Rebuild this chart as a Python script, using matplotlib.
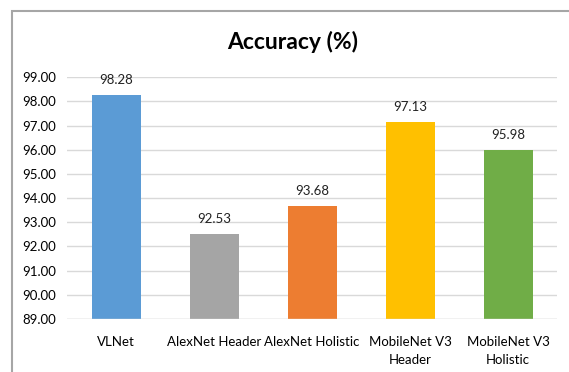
import matplotlib.pyplot as plt
from matplotlib.patches import Rectangle

plt.rcParams['font.family'] = ['Lato', 'DejaVu Sans']

models = ['VLNet', 'AlexNet Header', 'AlexNet Holistic', 'MobileNet V3\nHeader', 'MobileNet V3\nHolistic']
accuracy = [98.28, 92.53, 93.68, 97.13, 95.98]
colors = ['#5B9BD5', '#A5A5A5', '#ED7D31', '#FFC000', '#70AD47']
yticks = [89, 90, 91, 92, 93, 94, 95, 96, 97, 98, 99]

fig = plt.figure(figsize=(5.69, 3.72), dpi=100)
ax = fig.add_axes([67/569, 0.1425, 490/569, 0.65])

x = range(len(models))
ax.bar(x, [a - 89 for a in accuracy], bottom=89, width=0.5, color=colors, zorder=3)
for i, a in zip(x, accuracy):
    ax.text(i, a + 0.62, '%.2f' % a, ha='center', va='center', fontsize=9.5, color='#222222')

ax.set_ylim(89, 99)
ax.set_xlim(-0.5, 4.5)
ax.set_yticks(yticks)
ax.set_yticklabels(['%.2f' % t for t in yticks], fontsize=9.5)
ax.set_xticks(list(x))
ax.set_xticklabels(models, fontsize=9.5, linespacing=1.6)
ax.tick_params(axis='y', length=0, pad=8)
ax.tick_params(axis='x', length=0, pad=12)
ax.grid(axis='y', color='#D9D9D9', linewidth=1, zorder=0)
for s in ax.spines.values():
    s.set_visible(False)
ax.axhline(89, color='#D9D9D9', linewidth=1, zorder=4)

fig.text(293/569, 1 - 42/372, 'Accuracy (%)', ha='center', va='center', fontsize=16.5, fontweight='bold')

# chart frame
fig.patches.append(Rectangle((12/569, -0.1), 1.2, 1 - 11/372 + 0.1, transform=fig.transFigure,
                             fill=False, edgecolor='#A6A6A6', linewidth=1.5))

fig.savefig('out.png', dpi=100)
